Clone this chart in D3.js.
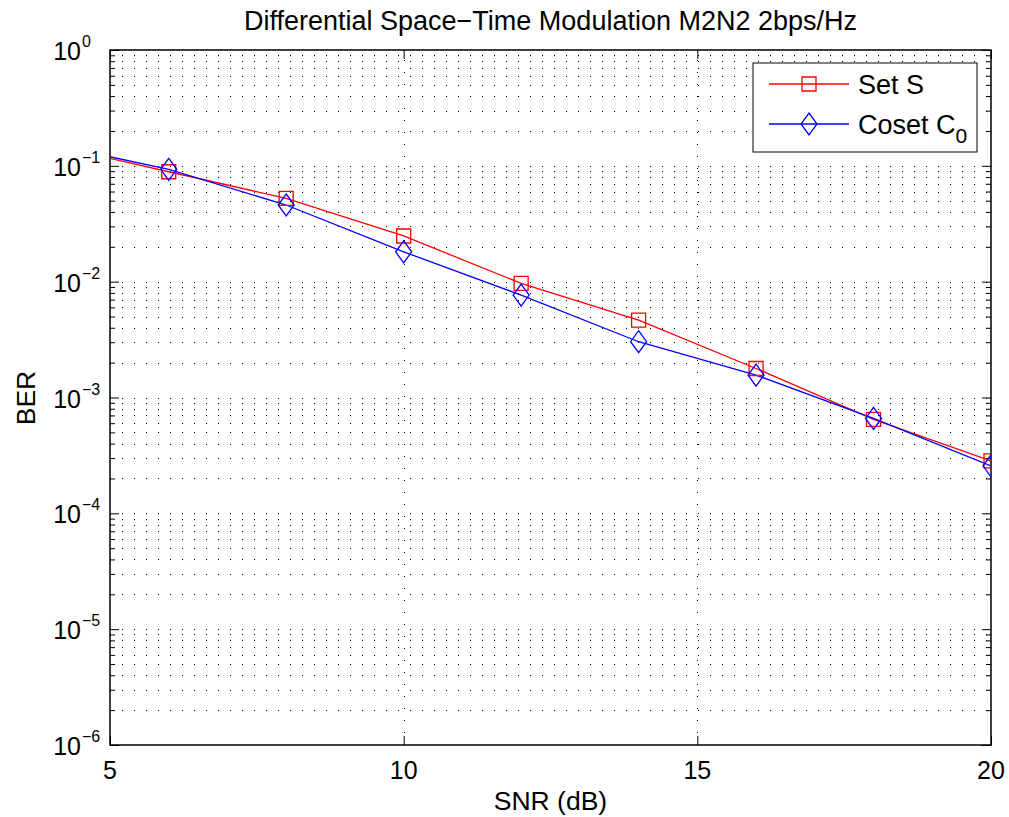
<!DOCTYPE html>
<html>
<head>
<meta charset="utf-8">
<script src="https://cdn.jsdelivr.net/npm/d3@7"></script>
<style>
  body { margin: 0; background: #fff; }
  svg text { font-family: "Liberation Sans", Arial, Helvetica, sans-serif; fill: #000; }
</style>
</head>
<body>
<svg id="chart" width="1009" height="817"></svg>
<script>
// data
const snr = [4, 6, 8, 10, 12, 14, 16, 18, 20];
const berSetS = [0.151, 0.0889, 0.0524, 0.0248, 0.00967, 0.00466, 0.00178, 0.000647, 0.000284];
const berCoset = [0.154, 0.0933, 0.0459, 0.0181, 0.00766, 0.00303, 0.00156, 0.000660, 0.000257];
const xTicks = [5, 10, 15, 20];
const yDecades = [-6, -5, -4, -3, -2, -1, 0];

const plotL = 110, plotR = 991, plotT = 50, plotB = 745;

const svg = d3.select("#chart");

const x = d3.scaleLinear().domain([5, 20]).range([plotL, plotR]);
const y = d3.scaleLog().domain([1e-6, 1]).range([plotB, plotT]);

// minor values for the log axis
const yMinor = [];
yDecades.slice(0, -1).forEach(e => {
  for (let k = 2; k <= 9; k++) yMinor.push(k * Math.pow(10, e));
});
const yMajor = yDecades.map(e => Math.pow(10, e));

// dotted grid
const grid = svg.append("g")
  .attr("stroke", "#000")
  .attr("stroke-width", 1)
  .attr("stroke-dasharray", "1,11")
  .attr("fill", "none");

grid.selectAll("line.h")
  .data(yMinor.concat(yMajor.slice(1, -1)))
  .enter().append("line")
  .attr("x1", plotL).attr("x2", plotR)
  .attr("y1", d => Math.round(y(d)) + 0.5)
  .attr("y2", d => Math.round(y(d)) + 0.5);

grid.selectAll("line.v")
  .data(xTicks.slice(1, -1))
  .enter().append("line")
  .attr("y1", plotB).attr("y2", plotT)
  .attr("x1", d => Math.round(x(d)) + 0.5)
  .attr("x2", d => Math.round(x(d)) + 0.5);

// axes with inward ticks
function styleAxis(g) {
  g.select(".domain").remove();
  g.selectAll(".tick line").attr("stroke", "#000").attr("stroke-width", 1);
  g.selectAll(".tick text").remove();
}

svg.append("g").attr("transform", `translate(${plotL},0)`)
  .call(d3.axisLeft(y).tickValues(yMajor).tickSize(-9).tickFormat(""))
  .call(styleAxis);
svg.append("g").attr("transform", `translate(${plotL},0)`)
  .call(d3.axisLeft(y).tickValues(yMinor).tickSize(-5).tickFormat(""))
  .call(styleAxis);
svg.append("g").attr("transform", `translate(${plotR},0)`)
  .call(d3.axisRight(y).tickValues(yMajor).tickSize(-9).tickFormat(""))
  .call(styleAxis);
svg.append("g").attr("transform", `translate(${plotR},0)`)
  .call(d3.axisRight(y).tickValues(yMinor).tickSize(-5).tickFormat(""))
  .call(styleAxis);
svg.append("g").attr("transform", `translate(0,${plotB})`)
  .call(d3.axisBottom(x).tickValues(xTicks).tickSize(-9).tickFormat(""))
  .call(styleAxis);
svg.append("g").attr("transform", `translate(0,${plotT})`)
  .call(d3.axisTop(x).tickValues(xTicks).tickSize(-9).tickFormat(""))
  .call(styleAxis);

// box
svg.append("rect")
  .attr("x", plotL).attr("y", plotT)
  .attr("width", plotR - plotL).attr("height", plotB - plotT)
  .attr("fill", "none").attr("stroke", "#000").attr("stroke-width", 1.5);

// tick labels
svg.append("g").selectAll("text")
  .data(xTicks)
  .enter().append("text")
  .attr("x", d => x(d))
  .attr("y", 779)
  .attr("text-anchor", "middle")
  .attr("font-size", 25)
  .text(d => d);

const yl = svg.append("g").selectAll("g")
  .data(yDecades)
  .enter().append("g")
  .attr("transform", e => `translate(81,${y(Math.pow(10, e))})`);
yl.append("text")
  .attr("y", 10)
  .attr("text-anchor", "end")
  .attr("font-size", 25)
  .text("10");
yl.append("text")
  .attr("x", 1)
  .attr("y", -3)
  .attr("font-size", 16)
  .text(e => e < 0 ? "\u2212" + (-e) : e);

// titles
svg.append("text")
  .attr("x", (plotL + plotR) / 2).attr("y", 30)
  .attr("text-anchor", "middle")
  .attr("font-size", 27)
  .text("Differential Space\u2212Time Modulation M2N2 2bps/Hz");
svg.append("text")
  .attr("x", (plotL + plotR) / 2).attr("y", 810)
  .attr("text-anchor", "middle")
  .attr("font-size", 26.5)
  .text("SNR (dB)");
svg.append("text")
  .attr("transform", "translate(35,398) rotate(-90)")
  .attr("text-anchor", "middle")
  .attr("font-size", 26.5)
  .text("BER");

// series
svg.append("clipPath").attr("id", "plotclip")
  .append("rect").attr("x", plotL).attr("y", plotT)
  .attr("width", plotR - plotL).attr("height", plotB - plotT);

const series = [
  { name: "Set S", values: berSetS, color: "#ff0000", marker: "square" },
  { name: "Coset", values: berCoset, color: "#0000ff", marker: "diamond" }
];

const line = d3.line().x((d, i) => x(snr[i])).y(d => y(d));

function markerPath(type) {
  if (type === "square") return "M-7,-7L7,-7L7,7L-7,7Z";
  return "M0,-11L8,0L0,11L-8,0Z";
}

const plot = svg.append("g").attr("clip-path", "url(#plotclip)");
series.forEach(s => {
  plot.append("path")
    .attr("d", line(s.values))
    .attr("fill", "none")
    .attr("stroke", s.color)
    .attr("stroke-width", 1.3);
});
series.forEach(s => {
  plot.selectAll(null)
    .data(s.values)
    .enter().append("path")
    .attr("transform", (d, i) => `translate(${x(snr[i])},${y(d)})`)
    .attr("d", markerPath(s.marker))
    .attr("fill", "none")
    .attr("stroke", s.color)
    .attr("stroke-width", 1.3);
});

// legend
const lg = svg.append("g");
lg.append("rect")
  .attr("x", 753).attr("y", 63).attr("width", 224).attr("height", 89)
  .attr("fill", "#fff").attr("stroke", "#000").attr("stroke-width", 1);
series.forEach((s, i) => {
  const ly = 84 + i * 40;
  lg.append("line")
    .attr("x1", 769).attr("x2", 849).attr("y1", ly).attr("y2", ly)
    .attr("stroke", s.color).attr("stroke-width", 1.3);
  lg.append("path")
    .attr("transform", `translate(809,${ly})`)
    .attr("d", markerPath(s.marker))
    .attr("fill", "none").attr("stroke", s.color).attr("stroke-width", 1.3);
  const t = lg.append("text")
    .attr("x", 858).attr("y", ly + 10)
    .attr("font-size", 27);
  if (i === 0) {
    t.text("Set S");
  } else {
    t.append("tspan").text("Coset C");
    t.append("tspan").attr("font-size", 21).attr("dy", 9).text("0");
  }
});
</script>
</body>
</html>
